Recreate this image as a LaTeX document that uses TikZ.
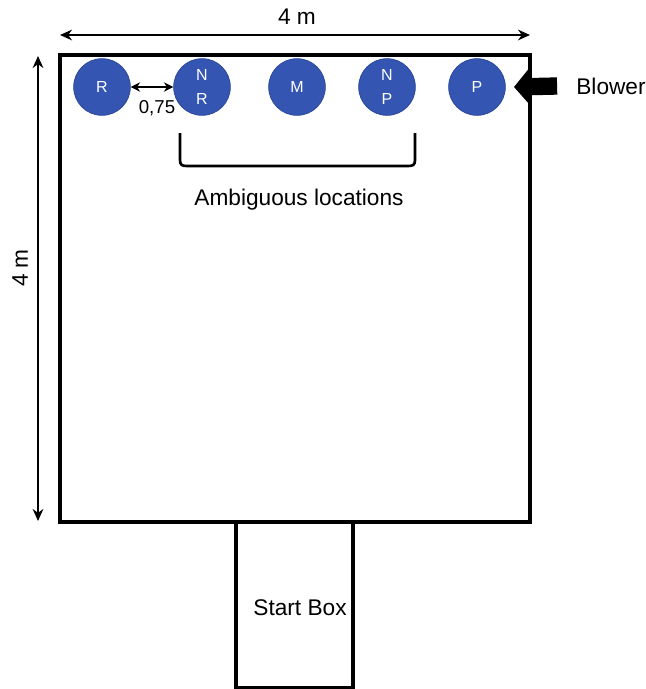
\documentclass[tikz,border=0pt]{standalone}
\usepackage{fontspec}
\setmainfont{Liberation Sans}
\usetikzlibrary{arrows.meta}
\definecolor{locblue}{RGB}{52,86,178}

\begin{document}
\begin{tikzpicture}[x=0.75pt,y=0.75pt,yscale=-1,xscale=1,
  loc/.style={circle,fill=locblue,draw=locblue!85!black,line width=0.6pt,minimum size=42.5pt,inner sep=0pt,text=white,font=\fontsize{12}{18}\selectfont,align=center},
  dimline/.style={line width=2pt,{Stealth[length=9pt,width=8pt]}-{Stealth[length=9pt,width=8pt]}},
  lbl/.style={inner sep=0.75pt,font=\fontsize{17}{20}\selectfont}]
\useasboundingbox (0,0) rectangle (646,689);

%Shape: Rectangle [arena]
\draw[line width=2.8pt] (60,55) rectangle (530,522);
%Shape: Rectangle [start box]
\draw[line width=2.8pt] (236,522) -- (236,688) -- (353,688) -- (353,522);

\coordinate (topL) at (60,35);
\coordinate (topR) at (530,35);
\coordinate (sideT) at (38,56);
\coordinate (sideB) at (38,521);

%Straight Lines [dimension arrows]
\draw[dimline] (topL) -- (topR);
\draw[dimline] (sideT) -- (sideB);

% Circles
\node[loc] (R) at (102,87) {R};
\node[loc] (NR) at (202,87) {N\\R};
\node[loc] (M) at (297,87) {M};
\node[loc] (NP) at (387,87) {N\\P};
\node[loc] (P) at (477,87) {P};

%Straight Lines [distance]
\draw[line width=2pt,{Stealth[length=7pt,width=7pt]}-{Stealth[length=7pt,width=7pt]}] (R.east) -- (NR.west);

%Curve Lines [brace]
\draw[line width=2pt] (180,133) -- (180,160) .. controls (180,165) and (182,166) .. (187,166) -- (408,166) .. controls (413,166) and (415,165) .. (415,160) -- (415,133);

% Blower arrow
\coordinate (blowtip) at (514,87);
\node[lbl] (blower) at (611,86) {Blower};
\draw[line width=13pt,-{Triangle[length=13pt,width=30pt]}] ([xshift=-13.5pt]blower.west) -- (blowtip);

% Text Node
\node[lbl] (w) at (297,17) {4 m};
% Text Node
\node[lbl,rotate=90] (h) at (20,268) {4 m};
% Text Node
\node[inner sep=0.75pt,font=\fontsize{14}{16}\selectfont] (d) at (157,108) {0,75};
% Text Node
\node[lbl] (amb) at (299,200) {Ambiguous locations};
% Text Node
\node[lbl] (start) at (300,608) {Start Box};

\end{tikzpicture}
\end{document}
